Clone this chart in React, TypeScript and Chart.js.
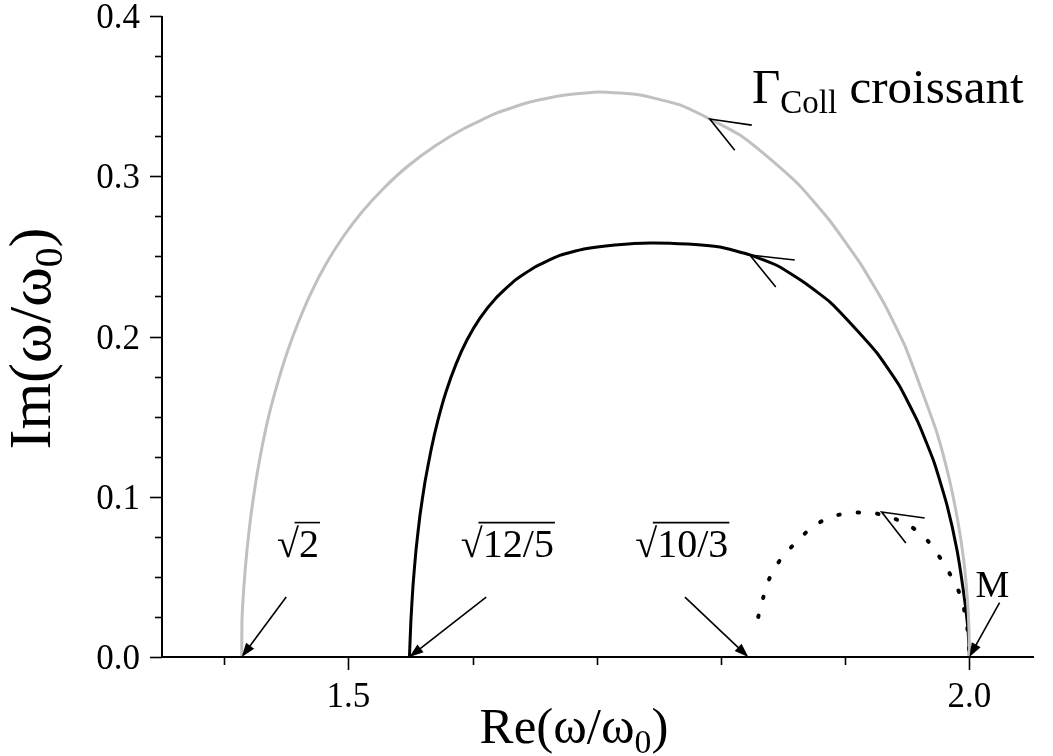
import React, { useEffect, useRef } from "react";
import { Chart, registerables } from "chart.js";

Chart.register(...registerables);

// ---- data (Re, Im of the three loci) ----
const grayRe = [1.4142, 1.4144, 1.4160, 1.4184, 1.4216, 1.4257, 1.4305, 1.4361, 1.4426, 1.4506, 1.4595, 1.4699, 1.4820, 1.4957, 1.5110, 1.5287, 1.5480, 1.5698, 1.5939, 1.6197, 1.6462, 1.6744, 1.7026, 1.7348, 1.7670, 1.7911, 1.8153, 1.8395, 1.8636, 1.8878, 1.9119, 1.9320, 1.9481, 1.9618, 1.9739, 1.9836, 1.9908, 1.9956, 1.9984, 1.9997, 2.0000];
const grayIm = [0.0000, 0.0231, 0.0449, 0.0668, 0.0886, 0.1105, 0.1310, 0.1510, 0.1697, 0.1897, 0.2084, 0.2271, 0.2452, 0.2621, 0.2777, 0.2927, 0.3064, 0.3189, 0.3301, 0.3395, 0.3463, 0.3507, 0.3526, 0.3507, 0.3445, 0.3357, 0.3257, 0.3108, 0.2939, 0.2721, 0.2459, 0.2197, 0.1941, 0.1660, 0.1398, 0.1117, 0.0842, 0.0593, 0.0356, 0.0168, 0.0000];

const blackRe = [1.5492, 1.5504, 1.5521, 1.5545, 1.5577, 1.5617, 1.5666, 1.5722, 1.5786, 1.5867, 1.5955, 1.6060, 1.6189, 1.6334, 1.6503, 1.6688, 1.6897, 1.7147, 1.7429, 1.7734, 1.7992, 1.8234, 1.8459, 1.8676, 1.8878, 1.9063, 1.9256, 1.9433, 1.9586, 1.9715, 1.9819, 1.9900, 1.9956, 1.9989, 2.0000];
const blackIm = [0.0000, 0.0231, 0.0449, 0.0668, 0.0886, 0.1092, 0.1292, 0.1479, 0.1654, 0.1828, 0.1978, 0.2115, 0.2240, 0.2346, 0.2434, 0.2502, 0.2546, 0.2571, 0.2584, 0.2577, 0.2558, 0.2509, 0.2440, 0.2334, 0.2215, 0.2066, 0.1897, 0.1697, 0.1466, 0.1217, 0.0949, 0.0668, 0.0387, 0.0168, 0.0000];

const dotRe = [1.830, 1.834, 1.839, 1.848, 1.861, 1.875, 1.891, 1.906, 1.922, 1.937, 1.952, 1.967, 1.978, 1.987, 1.994, 1.997, 1.999, 2.000];
const dotIm = [0.025, 0.037, 0.049, 0.061, 0.072, 0.082, 0.088, 0.090, 0.090, 0.087, 0.082, 0.072, 0.060, 0.048, 0.036, 0.024, 0.014, 0.000];

// ---- ticks ----
const xMajorTicks = [1.5, 2.0];
const xTickLabels = ["1.5", "2.0"];
const xMinorTicks = [1.4, 1.6, 1.7, 1.8, 1.9];
const yMajorTicks = [0.0, 0.1, 0.2, 0.3, 0.4];
const yTickLabels = ["0.0", "0.1", "0.2", "0.3", "0.4"];
const yMinorTicks = [0.025, 0.05, 0.075, 0.125, 0.15, 0.175, 0.225, 0.25, 0.275, 0.325, 0.35, 0.375];

// ---- annotations (data coordinates) ----
const rootLabels = [
  { text: "2", at: [1.4426, 0.0624], tail: [1.450, 0.0374], tip: [1.4142, 0.0] },
  { text: "12/5", at: [1.5906, 0.0624], tail: [1.611, 0.0374], tip: [1.5492, 0.0] },
  { text: "10/3", at: [1.7310, 0.0624], tail: [1.771, 0.0374], tip: [1.822, 0.0] },
];
const mLabel = { text: "M", at: [2.005, 0.0374], tail: [2.0243, 0.034], tip: [2.0, 0.0] };
const chevrons = [
  { tip: [1.791, 0.3357], a: [1.8248, 0.3319], b: [1.8111, 0.3163] },
  { tip: [1.8232, 0.2509], a: [1.8594, 0.2477], b: [1.8441, 0.2309] },
  { tip: [1.9294, 0.0905], a: [1.964, 0.0867], b: [1.9488, 0.0711] },
];
const gammaLabelAt = [1.825, 0.3457];

const SERIF = '"Liberation Serif", "Times New Roman", serif';

export default function App() {
  const ref = useRef<HTMLCanvasElement>(null);

  useEffect(() => {
    const canvas = ref.current!;
    const pts = (xs: number[], ys: number[]) => xs.map((x, i) => ({ x, y: ys[i] }));

    const overlay = {
      id: "overlay",
      afterDatasetsDraw(chart: any) {
        const ctx: CanvasRenderingContext2D = chart.ctx;
        const sx = chart.scales.x;
        const sy = chart.scales.y;
        const X = (v: number) => sx.getPixelForValue(v);
        const Y = (v: number) => sy.getPixelForValue(v);
        const ca = chart.chartArea;
        ctx.save();
        ctx.strokeStyle = "#000";
        ctx.fillStyle = "#000";
        ctx.lineCap = "butt";

        // axes
        ctx.lineWidth = 2;
        ctx.beginPath();
        ctx.moveTo(ca.left, ca.top);
        ctx.lineTo(ca.left, ca.bottom);
        ctx.lineTo(ca.right, ca.bottom);
        ctx.stroke();

        // y ticks
        ctx.lineWidth = 1.6;
        yMajorTicks.forEach((v) => {
          const y = Math.round(Y(v)) + 0.5;
          ctx.beginPath();
          ctx.moveTo(ca.left - 12, y);
          ctx.lineTo(ca.left, y);
          ctx.stroke();
        });
        yMinorTicks.forEach((v) => {
          const y = Math.round(Y(v)) + 0.5;
          ctx.beginPath();
          ctx.moveTo(ca.left - 7, y);
          ctx.lineTo(ca.left, y);
          ctx.stroke();
        });
        // x ticks
        xMajorTicks.forEach((v) => {
          const x = Math.round(X(v)) + 0.5;
          ctx.beginPath();
          ctx.moveTo(x, ca.bottom);
          ctx.lineTo(x, ca.bottom + 13);
          ctx.stroke();
        });
        xMinorTicks.forEach((v) => {
          const x = Math.round(X(v)) + 0.5;
          ctx.beginPath();
          ctx.moveTo(x, ca.bottom);
          ctx.lineTo(x, ca.bottom + 8);
          ctx.stroke();
        });

        // tick labels
        ctx.font = `35px ${SERIF}`;
        ctx.textAlign = "right";
        ctx.textBaseline = "alphabetic";
        yMajorTicks.forEach((v, i) => {
          ctx.fillText(yTickLabels[i], ca.left - 22, Y(v) + 12);
        });
        ctx.textAlign = "center";
        xMajorTicks.forEach((v, i) => {
          ctx.fillText(xTickLabels[i], X(v), ca.bottom + 50);
        });

        // rich text helper
        const drawRich = (
          segs: { t: string; size: number; dy: number }[],
          x: number,
          y: number,
          align: "left" | "center"
        ) => {
          let total = 0;
          segs.forEach((s) => {
            ctx.font = `${s.size}px ${SERIF}`;
            total += ctx.measureText(s.t).width;
          });
          let cx = align === "center" ? x - total / 2 : x;
          ctx.textAlign = "left";
          segs.forEach((s) => {
            ctx.font = `${s.size}px ${SERIF}`;
            ctx.fillText(s.t, cx, y + s.dy);
            cx += ctx.measureText(s.t).width;
          });
        };

        // axis titles
        const tSize = 51;
        drawRich(
          [
            { t: "Re(ω/ω", size: tSize, dy: 0 },
            { t: "0", size: tSize * 0.66, dy: tSize * 0.2 },
            { t: ")", size: tSize, dy: 0 },
          ],
          (ca.left + ca.right) / 2 - 24,
          ca.bottom + 86,
          "center"
        );
        ctx.save();
        ctx.translate(50, (ca.top + ca.bottom) / 2 + 2);
        ctx.rotate(-Math.PI / 2);
        const iSize = 60;
        drawRich(
          [
            { t: "Im(ω/ω", size: iSize, dy: 0 },
            { t: "0", size: iSize * 0.66, dy: iSize * 0.2 },
            { t: ")", size: iSize, dy: 0 },
          ],
          0,
          0,
          "center"
        );
        ctx.restore();

        // root labels with arrows
        const arrow = (tail: number[], tip: number[]) => {
          const x0 = X(tail[0]), y0 = Y(tail[1]);
          const x1 = X(tip[0]), y1 = Y(tip[1]);
          const ang = Math.atan2(y1 - y0, x1 - x0);
          const L = 14, Wd = 5;
          ctx.lineWidth = 1.6;
          ctx.beginPath();
          ctx.moveTo(x0, y0);
          ctx.lineTo(x1 - Math.cos(ang) * L * 0.8, y1 - Math.sin(ang) * L * 0.8);
          ctx.stroke();
          ctx.beginPath();
          ctx.moveTo(x1, y1);
          ctx.lineTo(x1 - Math.cos(ang) * L - Math.sin(ang) * Wd, y1 - Math.sin(ang) * L + Math.cos(ang) * Wd);
          ctx.lineTo(x1 - Math.cos(ang) * L + Math.sin(ang) * Wd, y1 - Math.sin(ang) * L - Math.cos(ang) * Wd);
          ctx.closePath();
          ctx.fill();
        };
        const rSize = 40;
        rootLabels.forEach((r) => {
          const x = X(r.at[0]);
          const y = Y(r.at[1]);
          ctx.font = `${rSize}px ${SERIF}`;
          ctx.textAlign = "left";
          ctx.fillText("√", x, y);
          const w1 = ctx.measureText("√").width;
          ctx.fillText(r.text, x + w1, y);
          const wt = ctx.measureText(r.text).width;
          ctx.lineWidth = 1.6;
          ctx.beginPath();
          ctx.moveTo(x + w1 * 0.8, y - rSize * 0.86);
          ctx.lineTo(x + w1 + wt + 1, y - rSize * 0.86);
          ctx.stroke();
          arrow(r.tail, r.tip);
        });
        ctx.font = `38px ${SERIF}`;
        ctx.textAlign = "left";
        ctx.fillText(mLabel.text, X(mLabel.at[0]), Y(mLabel.at[1]));
        arrow(mLabel.tail, mLabel.tip);

        // chevrons along the curves
        ctx.lineWidth = 1.6;
        chevrons.forEach((c) => {
          ctx.beginPath();
          ctx.moveTo(X(c.a[0]), Y(c.a[1]));
          ctx.lineTo(X(c.tip[0]), Y(c.tip[1]));
          ctx.lineTo(X(c.b[0]), Y(c.b[1]));
          ctx.stroke();
        });

        // Gamma label
        drawRich(
          [
            { t: "Γ", size: 49, dy: 0 },
            { t: "Coll", size: 33, dy: 10 },
            { t: " croissant", size: 49, dy: 0 },
          ],
          X(gammaLabelAt[0]),
          Y(gammaLabelAt[1]),
          "left"
        );

        ctx.restore();
      },
    };

    const chart = new Chart(canvas, {
      type: "scatter",
      data: {
        datasets: [
          {
            data: pts(grayRe, grayIm),
            showLine: true,
            borderColor: "#c0c0c0",
            borderWidth: 3,
            pointRadius: 0,
            tension: 0.15,
            clip: false,
          } as any,
          {
            data: pts(blackRe, blackIm),
            showLine: true,
            borderColor: "#000000",
            borderWidth: 3,
            pointRadius: 0,
            tension: 0.15,
            clip: false,
          } as any,
          {
            data: pts(dotRe, dotIm),
            showLine: true,
            borderColor: "#000000",
            borderWidth: 4,
            borderDash: [1.5, 18],
            borderCapStyle: "round",
            pointRadius: 0,
            tension: 0.25,
            clip: false,
          } as any,
        ],
      },
      options: {
        responsive: false,
        animation: false,
        devicePixelRatio: 1,
        events: [],
        layout: { padding: { left: 162, right: 19, top: 16, bottom: 99 } },
        plugins: { legend: { display: false }, tooltip: { enabled: false } },
        scales: {
          x: { type: "linear", min: 1.35, max: 2.052, display: false },
          y: { type: "linear", min: 0, max: 0.4, display: false },
        },
      },
      plugins: [overlay],
    });
    return () => chart.destroy();
  }, []);

  return (
    <canvas
      ref={ref}
      width={1053}
      height={756}
      style={{ position: "fixed", left: 0, top: 0, display: "block", background: "#fff" }}
    />
  );
}
